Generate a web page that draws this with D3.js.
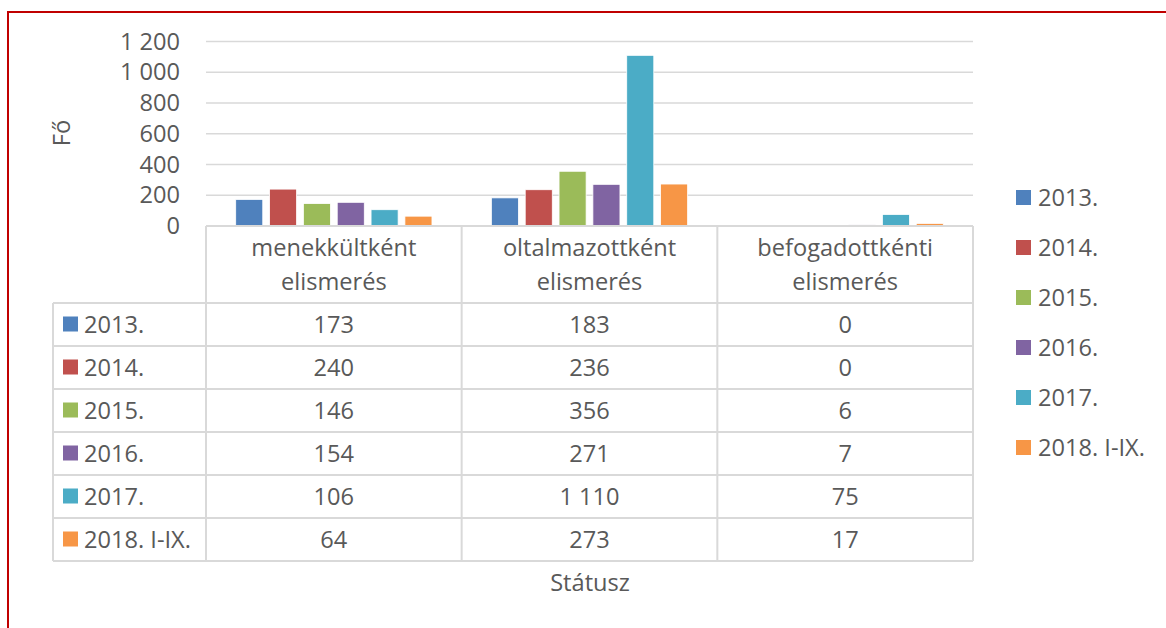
<!DOCTYPE html>
<html lang="hu">
<head>
<meta charset="UTF-8" />
<title>Státusz</title>
<style>
  body { margin: 0; background: #fff; }
  svg { font-family: "Open Sans", sans-serif; }
  text { fill: #595959; }
</style>
</head>
<body>
<svg id="chart" width="1166" height="628"></svg>
<script src="https://d3js.org/d3.v7.min.js"></script>
<script>
// adatok
const categories = ["menekkültként elismerés", "oltalmazottként elismerés", "befogadottkénti elismerés"];
const categoryLines = [["menekkültként", "elismerés"], ["oltalmazottként", "elismerés"], ["befogadottkénti", "elismerés"]];
const seriesNames = ["2013.", "2014.", "2015.", "2016.", "2017.", "2018. I-IX."];
const v2013 = [173, 183, 0];
const v2014 = [240, 236, 0];
const v2015 = [146, 356, 6];
const v2016 = [154, 271, 7];
const v2017 = [106, 1110, 75];
const v2018 = [64, 273, 17];
const yTicks = [0, 200, 400, 600, 800, 1000, 1200];
const colors = ["#4f81bd", "#c0504d", "#9bbb59", "#8064a2", "#4bacc6", "#f79646"];

const seriesValues = [v2013, v2014, v2015, v2016, v2017, v2018];
const rows = seriesNames.map((name, i) => ({ name, values: seriesValues[i], color: colors[i] }));

const huLocale = d3.formatLocale({ decimal: ",", thousands: "\u00a0", grouping: [3], currency: ["", " Ft"] });
const fmt = huLocale.format(",d");

const svg = d3.select("#chart");
const FS = 23.6;

// keret
svg.append("rect")
  .attr("x", 8).attr("y", 12)
  .attr("width", 1170).attr("height", 630)
  .attr("fill", "none").attr("stroke", "#c00000").attr("stroke-width", 2);

// skálák
const x0 = d3.scaleBand().domain(categories).range([206, 973]);
const sideGap = 29.7;
const x1 = d3.scaleBand().domain(seriesNames)
  .range([sideGap, x0.bandwidth() - sideGap]).paddingInner(0.2).paddingOuter(0);
const y = d3.scaleLinear().domain([0, 1200]).range([226, 41.5]);

// rácsvonalak
svg.append("g").selectAll("line").data(yTicks.filter(d => d > 0)).join("line")
  .attr("x1", 206).attr("x2", 973)
  .attr("y1", d => y(d)).attr("y2", d => y(d))
  .attr("stroke", "#d9d9d9").attr("stroke-width", 1.5);

// y tengely
const yAxis = svg.append("g")
  .attr("transform", "translate(180,0)")
  .call(d3.axisLeft(y).tickValues(yTicks).tickSize(0).tickPadding(0).tickFormat(fmt));
yAxis.select(".domain").remove();
yAxis.selectAll("text").attr("font-size", FS).attr("font-family", "Open Sans").style("fill", "#595959");

svg.append("text")
  .attr("transform", "translate(70,133) rotate(-90)")
  .attr("text-anchor", "middle")
  .attr("font-size", FS)
  .text("Fő");

// oszlopok
const groups = svg.append("g").selectAll("g").data(categories).join("g")
  .attr("transform", d => `translate(${x0(d)},0)`);

groups.selectAll("rect")
  .data((c, ci) => rows.map(r => ({ name: r.name, value: r.values[ci], color: r.color })))
  .join("rect")
  .attr("x", d => x1(d.name))
  .attr("width", x1.bandwidth())
  .attr("y", d => y(d.value))
  .attr("height", d => y(0) - y(d.value))
  .attr("fill", d => d.color)
  .attr("stroke", "#fff").attr("stroke-width", 0.8);

// adattábla
const tableLeft = 53;
const headerTop = 226, headerBottom = 303, rowH = 43;
const tableBottom = headerBottom + rowH * rows.length;
const grid = svg.append("g").attr("stroke", "#d9d9d9").attr("stroke-width", 2);

grid.append("line").attr("x1", 206).attr("x2", 973).attr("y1", headerTop).attr("y2", headerTop);
grid.selectAll(".v").data([206, ...categories.map(c => x0(c) + x0.bandwidth())]).join("line")
  .attr("x1", d => d).attr("x2", d => d)
  .attr("y1", headerTop).attr("y2", tableBottom);
grid.append("line").attr("x1", tableLeft).attr("x2", tableLeft).attr("y1", headerBottom).attr("y2", tableBottom);
grid.selectAll(".h").data(d3.range(rows.length + 1)).join("line")
  .attr("x1", tableLeft).attr("x2", 973)
  .attr("y1", i => headerBottom + i * rowH).attr("y2", i => headerBottom + i * rowH);

// fejléc
categories.forEach((c, ci) => {
  const t = svg.append("text")
    .attr("x", x0(c) + x0.bandwidth() / 2)
    .attr("text-anchor", "middle")
    .attr("font-size", FS);
  categoryLines[ci].forEach((line, li) => {
    t.append("tspan").attr("x", x0(c) + x0.bandwidth() / 2)
      .attr("y", 256 + li * 34).text(line);
  });
});

// sorok
rows.forEach((r, ri) => {
  const cy = headerBottom + ri * rowH + rowH / 2;
  svg.append("rect").attr("x", 63).attr("y", cy - 8).attr("width", 15).attr("height", 15).attr("fill", r.color);
  svg.append("text").attr("x", 84).attr("y", cy).attr("dy", "0.35em")
    .attr("font-size", FS).text(r.name);
  r.values.forEach((v, ci) => {
    svg.append("text")
      .attr("x", x0(categories[ci]) + x0.bandwidth() / 2)
      .attr("y", cy).attr("dy", "0.35em")
      .attr("text-anchor", "middle")
      .attr("font-size", FS)
      .text(fmt(v));
  });
});

// x tengely címe
svg.append("text").attr("x", 590).attr("y", 583).attr("dy", "0.35em")
  .attr("text-anchor", "middle").attr("font-size", FS).text("Státusz");

// jelmagyarázat
const legend = svg.append("g").selectAll("g").data(rows).join("g")
  .attr("transform", (d, i) => `translate(1016,${198 + i * 50})`);
legend.append("rect").attr("x", 0).attr("y", -8).attr("width", 15).attr("height", 15).attr("fill", d => d.color);
legend.append("text").attr("x", 22).attr("dy", "0.35em").attr("font-size", FS).text(d => d.name);
</script>
</body>
</html>
